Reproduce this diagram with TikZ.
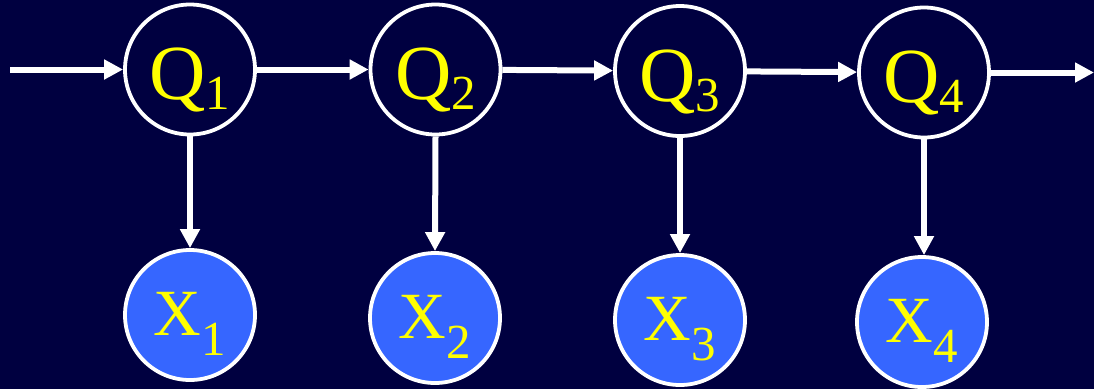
\documentclass[tikz,border=0pt]{standalone}
\usepackage{fontspec}
\setmainfont{Liberation Serif}
\usetikzlibrary{arrows.meta}
\definecolor{bgnavy}{RGB}{0,0,64}
\definecolor{obsblue}{RGB}{54,102,255}
\definecolor{labyellow}{RGB}{255,255,0}
\newcommand{\qlab}[1]{{\fontsize{78}{78}\selectfont Q}\raisebox{-10pt}{\fontsize{49}{49}\selectfont #1}}
\newcommand{\xlab}[1]{{\fontsize{66}{66}\selectfont X}\raisebox{-20pt}{\fontsize{49}{49}\selectfont #1}}
\begin{document}
\begin{tikzpicture}[x=1pt,y=-1pt,
  hidden/.style={circle,draw=white,line width=3.8pt,fill=bgnavy,minimum size=130pt,inner sep=0pt,
    text=labyellow,text height=60pt,text depth=0pt},
  observed/.style={circle,draw=white,line width=3.8pt,fill=obsblue,minimum size=130pt,inner sep=0pt,
    text=labyellow,text height=40pt,text depth=0pt},
  link/.style={draw=white,line width=6pt,-{Triangle[length=19pt,width=19pt]}}]
\fill[bgnavy] (0,0) rectangle (1094,389);
\useasboundingbox (0,0) rectangle (1094,389);
\node[hidden] (q1) at (190,69.5) {\qlab{1}};
\node[hidden] (q2) at (435.5,69.5) {\qlab{2}};
\node[hidden] (q3) at (680,71) {\qlab{3}};
\node[hidden] (q4) at (924,72.5) {\qlab{4}};
\node[observed] (x1) at (190,315) {\xlab{1}};
\node[observed] (x2) at (435,318) {\xlab{2}};
\node[observed] (x3) at (680,320) {\xlab{3}};
\node[observed] (x4) at (922,322) {\xlab{4}};
\coordinate (start) at (10,69.5);
\coordinate (finish) at (1094,72.5);
\draw[link] (start) -- (q1);
\draw[link] (q1) -- (q2);
\draw[link] (q2) -- (q3);
\draw[link] (q3) -- (q4);
\draw[link] (q4) -- (finish);
\draw[link] (q1.south) -- (x1.north);
\draw[link] (q2.south) -- (x2.north);
\draw[link] (q3.south) -- (x3.north);
\draw[link] (q4.south) -- (q4.south |- x4.north);
\end{tikzpicture}
\end{document}
